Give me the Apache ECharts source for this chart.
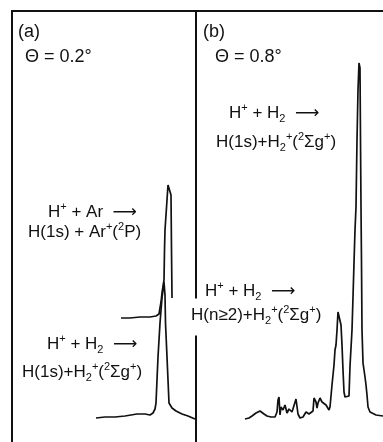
<!DOCTYPE html>
<html>
<head>
<meta charset="utf-8">
<script src="https://cdn.jsdelivr.net/npm/echarts@6/dist/echarts.min.js"></script>
<style>
    html, body { margin: 0; padding: 0; background: #fff; }
    #chart { width: 383px; height: 442px; }
</style>
</head>
<body>
<div id="chart"></div>
<script>
// channel = horizontal position inside a panel, counts = pen height above the panel floor
// panel (a), theta = 0.2 deg
const arChannel = [109, 118, 128, 138, 144, 147, 149, 150, 152, 152.5, 153, 155, 156, 157, 158, 159, 159.5, 160]
const arCounts = [124, 124, 125, 125, 126, 128, 140, 149, 162, 192, 212, 242, 257, 259, 258, 247, 192, 144]
const h2aChannel = [84, 93, 103, 113, 125, 133, 138, 141, 143, 144, 146, 148, 150, 152, 153, 153.5, 155, 157, 160, 164, 170, 176, 183]
const h2aCounts = [24, 25, 25, 26, 28, 28, 27, 29, 33, 39, 85, 119, 144, 160, 147, 119, 85, 39, 34, 31, 28, 26, 23]
// panel (b), theta = 0.8 deg
const h2bChannel = [49, 53, 56, 60, 64, 68, 71, 75, 79, 81, 82, 83, 84, 85, 87, 89, 91, 93, 96, 98,
    100, 102, 104, 107, 110, 113, 115, 117, 118, 120, 121, 122, 124, 126, 128, 130, 133, 134, 136, 138,
    139, 140, 141, 142, 143, 144, 145, 146, 147, 148, 149, 151, 153, 154, 156, 157, 158, 159, 160, 161,
    162, 163, 164, 164.5, 165, 165.5, 166, 167, 169, 170, 171, 172, 174, 176, 180, 187]
const h2bCounts = [23, 24, 26, 29, 31, 28, 26, 25, 25, 30, 42, 45, 27, 35, 32, 37, 29, 33, 30, 32,
    43, 28, 24, 25, 30, 28, 29, 31, 44, 40, 34, 39, 44, 40, 41, 37, 32, 35, 57, 77,
    92, 97, 112, 130, 132, 130, 117, 97, 72, 50, 45, 44, 46, 76, 112, 145, 179, 212, 235, 302,
    352, 379, 374, 302, 235, 179, 112, 79, 65, 57, 47, 35, 30, 29, 27, 26]

const channelMaxA = 184
const channelMaxB = 187
const countsMax = 431

const ink = '#111'
const zip = (xs, ys) => xs.map((x, i) => [x, ys[i]])

const chart = echarts.init(document.getElementById('chart'))

const frameAxis = {
    axisTick: { show: false },
    axisLabel: { show: false },
    splitLine: { show: false },
    axisLine: { show: true, onZero: false, lineStyle: { color: ink, width: 2 } }
}
const trace = {
    type: 'line',
    showSymbol: false,
    silent: true,
    lineStyle: { color: ink, width: 1.7 }
}

// rich text: sup / sub for the reaction labels
const font = '"Liberation Sans", "DejaVu Sans", sans-serif'
const rich = {
    b: { fontSize: 17, lineHeight: 22, fontFamily: font, fill: ink },
    sup: { fontSize: 11, lineHeight: 10, verticalAlign: 'top', fontFamily: font, fill: ink },
    sub: { fontSize: 11, lineHeight: 10, verticalAlign: 'bottom', fontFamily: font, fill: ink }
}
function label(x, y, text, extra) {
    return {
        type: 'text', x, y, z: 100,
        style: Object.assign({
            text, rich,
            textVerticalAlign: 'middle',
            textAlign: 'left'
        }, extra || {})
    }
}
function plain(x, y, text, size) {
    return {
        type: 'text', x, y, z: 100,
        style: { text, font: `${size}px ${font}`, fill: ink, textVerticalAlign: 'middle' }
    }
}

const h2Right = '{b| + H}{sub|2}{b|  ⟶}'
const option = {
    animation: false,
    backgroundColor: '#fff',
    grid: [
        { left: 12, top: 11, width: 184, bottom: 0 },
        { left: 196, top: 11, right: 0, bottom: 0 }
    ],
    xAxis: [
        { type: 'value', gridIndex: 0, position: 'top', min: 0, max: channelMaxA, ...frameAxis },
        { type: 'value', gridIndex: 1, position: 'top', min: 0, max: channelMaxB, ...frameAxis }
    ],
    yAxis: [
        { type: 'value', gridIndex: 0, position: 'left', min: 0, max: countsMax, ...frameAxis },
        { type: 'value', gridIndex: 1, position: 'left', min: 0, max: countsMax, ...frameAxis }
    ],
    series: [
        { ...trace, name: 'H+ + Ar', xAxisIndex: 0, yAxisIndex: 0, data: zip(arChannel, arCounts) },
        { ...trace, name: 'H+ + H2 (a)', xAxisIndex: 0, yAxisIndex: 0, data: zip(h2aChannel, h2aCounts) },
        { ...trace, name: 'H+ + H2 (b)', xAxisIndex: 1, yAxisIndex: 1, data: zip(h2bChannel, h2bCounts) }
    ],
    graphic: [
        plain(18, 32, '(a)', 18),
        plain(25, 57, 'Θ = 0.2°', 18),
        label(48, 212, '{b|H}{sup|+}{b| + Ar  ⟶}'),
        label(28, 232, '{b|H(1s) + Ar}{sup|+}{b|(}{sup|2}{b|P)}'),
        label(47, 344, '{b|H}{sup|+}' + h2Right),
        label(22, 372, '{b|H(1s)+H}{sub|2}{sup|+}{b|(}{sup|2}{b|Σg}{sup|+}{b|)}'),

        plain(203, 32, '(b)', 18),
        plain(215, 57, 'Θ = 0.8°', 18),
        label(229, 113, '{b|H}{sup|+}' + h2Right),
        label(216, 142, '{b|H(1s)+H}{sub|2}{sup|+}{b|(}{sup|2}{b|Σg}{sup|+}{b|)}'),
        // this one sits across the panel divider and hides it
        label(189, 317, '{b|H(n≥2)+H}{sub|2}{sup|+}{b|(}{sup|2}{b|Σg}{sup|+}{b|)}',
            { backgroundColor: '#fff', padding: [6, 2, 9, 2] }),
        label(205, 291, '{b|H}{sup|+}' + h2Right)
    ]
}
chart.setOption(option)
</script>
</body>
</html>
